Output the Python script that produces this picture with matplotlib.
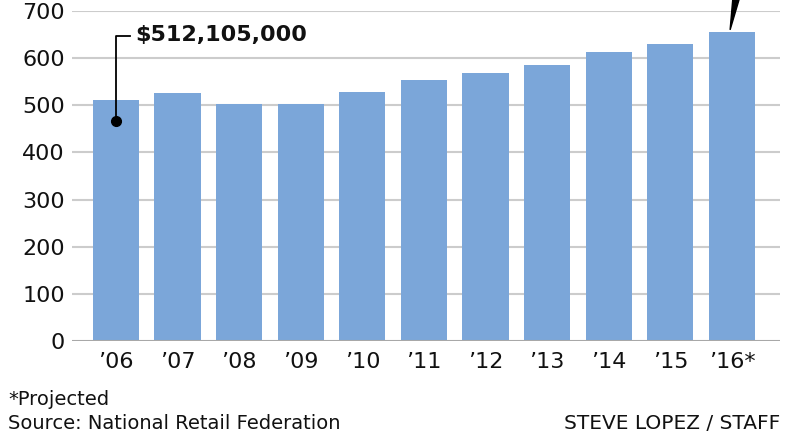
import matplotlib
matplotlib.use("Agg")
import matplotlib.pyplot as plt
from matplotlib.patches import Polygon

plt.rcParams['font.family'] = ['DejaVu Sans']

years = ["’06", "’07", "’08", "’09", "’10", "’11", "’12", "’13", "’14", "’15", "’16*"]
values = [512.1, 525, 502, 503, 529, 553, 568, 585, 612, 631, 655]
yticks = [0, 100, 200, 300, 400, 500, 600, 700]
callout_text = "$512,105,000"

bar_color = "#7ba6d9"
grid_color = "#cccccc"

fig = plt.figure(figsize=(7.9, 4.4), dpi=100)
ax = fig.add_axes([72/790, 99/440, (780-72)/790, 330/440])

x = list(range(len(years)))
ax.set_axisbelow(True)
for t in yticks[1:]:
    ax.axhline(t, color=grid_color, lw=1.5, zorder=0)
ax.bar(x, values, width=0.75, color=bar_color, zorder=2)
ax.axhline(0, color="#a8a8a8", lw=1.5, zorder=3)

ax.set_xlim(-0.714, 10.78)
ax.set_ylim(0, 700)
ax.set_yticks(yticks)
ax.set_yticklabels([str(t) for t in yticks], fontsize=16)
ax.set_xticks(x)
ax.set_xticklabels(years, fontsize=16)
ax.tick_params(axis='both', length=0, colors='#111111')
ax.tick_params(axis='y', pad=5)
ax.tick_params(axis='x', pad=8)
for s in ax.spines.values():
    s.set_visible(False)

# callout for 2006
ax.plot([0.23, 0, 0], [647, 647, 467], color='black', lw=1.3, zorder=4, clip_on=False)
ax.plot([0], [467], 'o', color='black', ms=7, zorder=5)
ax.text(0.31, 649, callout_text, fontsize=16, fontweight='bold', va='center', ha='left', color='#111111')

# pointer wedge to 2016 bar
v = values[-1]
wedge = Polygon([[10 + 0.02, 735], [10 + 0.14, 735], [10 - 0.03, v + 5]], closed=True,
                color='black', clip_on=False, zorder=5)
ax.add_patch(wedge)

fig.text(8/790, 1 - 405/440, "*Projected", fontsize=14, ha='left', va='baseline', color='#111111')
fig.text(8/790, 1 - 429/440, "Source: National Retail Federation", fontsize=14, ha='left', va='baseline', color='#111111')
fig.text(780/790, 1 - 429/440, "STEVE LOPEZ / STAFF", fontsize=14.5, ha='right', va='baseline', color='#111111')

fig.savefig("out.png", dpi=100)
